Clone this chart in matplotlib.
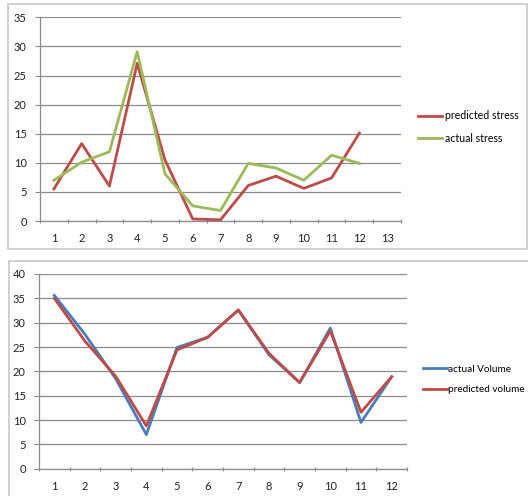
import numpy as np
import matplotlib.pyplot as plt
from matplotlib.patches import Rectangle

plt.rcParams['font.family'] = ['Lato', 'DejaVu Sans']

# stress series (13 categories on the axis, 12 samples)
stress_cats = list(range(1, 14))
stress_x = list(range(1, 13))
predicted_stress = [5.5, 13.3, 6.0, 27.1, 10.5, 0.35, 0.2, 6.1, 7.7, 5.6, 7.4, 15.1]
actual_stress = [7.0, 10.1, 11.9, 29.1, 8.1, 2.6, 1.8, 9.9, 9.1, 7.0, 11.3, 9.9]

# volume series
volume_x = list(range(1, 13))
actual_volume = [35.6, 27.6, 18.5, 7.0, 24.9, 27.0, 32.6, 23.4, 17.7, 28.9, 9.5, 18.9]
predicted_volume = [35.0, 26.2, 19.0, 8.8, 24.4, 27.0, 32.6, 23.7, 17.7, 28.3, 11.6, 18.9]

RED = '#be4b48'
GREEN = '#9bbb59'
BLUE = '#4a7ebb'
GRID = '#8c8c8c'
FRAME = '#c8c8c8'

W, H = 528, 496
fig = plt.figure(figsize=(W / 100, H / 100), dpi=100)


def fx(px):
    return px / W


def fy(py):
    return (H - py) / H


# chart borders
fig.patches.append(Rectangle((fx(8), fy(249)), fx(519), 245 / H, transform=fig.transFigure,
                             fill=False, edgecolor=FRAME, lw=1.2))
fig.patches.append(Rectangle((fx(9), -0.02), 1.1, fy(261) + 0.02, transform=fig.transFigure,
                             fill=False, edgecolor=FRAME, lw=1.2))


def style_axes(ax, ncat, ymax, step):
    ax.set_xlim(0.5, ncat + 0.5)
    ax.set_ylim(0, ymax)
    ax.set_yticks(np.arange(0, ymax + 1, step))
    ax.set_xticks(range(1, ncat + 1))
    ax.set_xticks(np.arange(0.5, ncat + 1, 1), minor=True)
    ax.yaxis.grid(True, color=GRID, lw=0.9)
    ax.set_axisbelow(True)
    for s in ['top', 'right']:
        ax.spines[s].set_visible(False)
    for s in ['left', 'bottom']:
        ax.spines[s].set_color(GRID)
        ax.spines[s].set_linewidth(0.9)
    ax.tick_params(axis='x', which='major', length=0, pad=9, labelsize=8, colors='#222222')
    ax.tick_params(axis='x', which='minor', length=3, direction='inout', color=GRID, width=0.8)
    ax.tick_params(axis='y', length=3.5, color=GRID, width=0.8, pad=6, labelsize=8, labelcolor='#222222')


# top: stress
ax1 = fig.add_axes([fx(40), fy(221), 361 / W, 203.7 / H])
l_pred, = ax1.plot(stress_x, predicted_stress, color=RED, lw=2, label='predicted stress')
l_act, = ax1.plot(stress_x, actual_stress, color=GREEN, lw=2, label='actual stress')
style_axes(ax1, len(stress_cats), 35, 5)
fig.legend(handles=[l_pred, l_act], loc='center left', bbox_to_anchor=(fx(418), fy(127)),
           frameon=False, fontsize=7.6, handlelength=2.3, handletextpad=0.3,
           labelspacing=1.1, borderpad=0, borderaxespad=0)

# bottom: volume
ax2 = fig.add_axes([fx(39), fy(468.7), 368 / W, 194.7 / H])
v_act, = ax2.plot(volume_x, actual_volume, color=BLUE, lw=2, label='actual Volume')
v_pred, = ax2.plot(volume_x, predicted_volume, color=RED, lw=2, label='predicted volume')
style_axes(ax2, len(volume_x), 40, 5)
fig.legend(handles=[v_act, v_pred], loc='center left', bbox_to_anchor=(fx(423), fy(379.5)),
           frameon=False, fontsize=7.2, handlelength=2.4, handletextpad=0.1,
           labelspacing=1.2, borderpad=0, borderaxespad=0)

fig.savefig('out.png', dpi=100)
